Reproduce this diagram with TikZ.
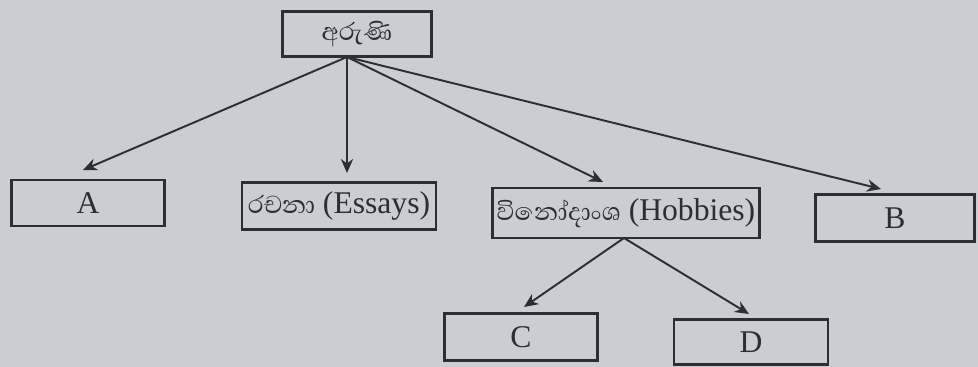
\documentclass[tikz,border=0pt]{standalone}
\usepackage{fontspec}
\setmainfont{Liberation Serif}
\newfontfamily\sinhalafont[Script=Sinhala]{Abhaya Libre}
\usetikzlibrary{arrows.meta}
\definecolor{paper}{RGB}{203,205,213}
\definecolor{ink}{RGB}{45,45,50}
\begin{document}
\begin{tikzpicture}[x=0.02cm,y=-0.02cm,
  box/.style={draw=ink,line width=1.3pt,rectangle,inner sep=0pt,font=\fontsize{18}{22}\selectfont,text=ink},
  arr/.style={draw=ink,line width=1.1pt,-{Stealth[length=8pt,width=7pt]}}]
\fill[paper] (0,0) rectangle (978,367);
\useasboundingbox (0,0) rectangle (978,367);
\node[box,minimum width=2.98cm,minimum height=0.9cm] (top) at (357,34) {\sinhalafont අරුණි};
\node[box,minimum width=3.06cm,minimum height=0.92cm] (a) at (88,203) {A};
\node[box,minimum width=3.88cm,minimum height=0.94cm] (ess) at (339,206) {{\sinhalafont රචනා} (Essays)};
\node[box,minimum width=5.34cm,minimum height=1.0cm] (hob) at (626,213) {{\sinhalafont විනෝදාංශ} (Hobbies)};
\node[box,minimum width=3.18cm,minimum height=0.94cm] (b) at (895,218) {B};
\node[box,minimum width=3.06cm,minimum height=0.94cm] (c) at (521,337) {C};
\node[box,minimum width=3.08cm,minimum height=0.9cm] (d) at (751,342) {D};
\coordinate (o) at (347,57);
\coordinate (ta) at (83,170);
\coordinate (te) at (347,173);
\coordinate (th) at (603,182);
\coordinate (tb) at (881,189);
\coordinate (h) at (624,238);
\coordinate (tc) at (524,307);
\coordinate (td) at (749,314);
\draw[arr] (o) -- (ta);
\draw[arr] (o) -- (te);
\draw[arr] (o) -- (th);
\draw[arr] (o) -- (tb);
\draw[arr] (h) -- (tc);
\draw[arr] (h) -- (td);
\end{tikzpicture}
\end{document}
